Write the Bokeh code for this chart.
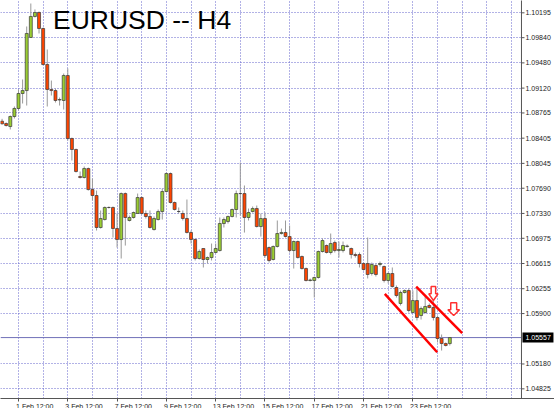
import numpy as np
from bokeh.plotting import figure
from bokeh.models import FixedTicker, Label, ColumnDataSource
from bokeh.embed import file_html
from bokeh.resources import INLINE
from bokeh.core.properties import value

# ---------------- data (EURUSD, H4 bars, first visible bar = index 0) ----------------
opens = [1.08647, 1.08614, 1.08571, 1.08714, 1.08829, 1.09043, 1.09085, 1.09843, 1.10143, 1.10200,
         1.09971, 1.09457, 1.09100, 1.09085, 1.08950, 1.08943, 1.09300, 1.08400, 1.08243, 1.07857,
         1.07843, 1.07971, 1.07671, 1.07586, 1.07129, 1.07243, 1.07415, 1.07415, 1.07115, 1.06957,
         1.07614, 1.07229, 1.07272, 1.07329, 1.07557, 1.07329, 1.07286, 1.07100, 1.07243, 1.07357,
         1.07643, 1.07900, 1.07486, 1.07358, 1.07329, 1.07258, 1.07058, 1.06958, 1.06686, 1.06829,
         1.06672, 1.06700, 1.06772, 1.06800, 1.07186, 1.07215, 1.07286, 1.07386, 1.07614, 1.07614,
         1.07272, 1.07357, 1.07400, 1.07143, 1.07257, 1.06843, 1.06672, 1.06858, 1.07043, 1.07058,
         1.07000, 1.06800, 1.06929, 1.06715, 1.06543, 1.06372, 1.06372, 1.06415, 1.06786, 1.06872,
         1.06772, 1.06915, 1.06800, 1.06800, 1.06858, 1.06829, 1.06743, 1.06743, 1.06615, 1.06615,
         1.06472, 1.06586, 1.06601, 1.06572, 1.06372, 1.06472, 1.06272, 1.06044, 1.06201, 1.06229,
         1.05915, 1.06086, 1.05872, 1.05915, 1.06015, 1.05986, 1.05844, 1.05544, 1.05472, 1.05472]
highs = [1.08681, 1.08629, 1.08729, 1.08857, 1.09100, 1.09243, 1.10000, 1.10328, 1.10243, 1.10214,
         1.09985, 1.09671, 1.09228, 1.09114, 1.08985, 1.09328, 1.09400, 1.08414, 1.08257, 1.07929,
         1.08000, 1.07985, 1.07829, 1.07657, 1.07372, 1.07429, 1.07429, 1.07429, 1.07329, 1.07629,
         1.07629, 1.07300, 1.07357, 1.07614, 1.07572, 1.07372, 1.07372, 1.07286, 1.07386, 1.07686,
         1.07914, 1.07914, 1.07500, 1.07415, 1.07372, 1.07529, 1.07086, 1.06972, 1.06815, 1.06829,
         1.06715, 1.06900, 1.06900, 1.07272, 1.07272, 1.07300, 1.07400, 1.07657, 1.08057, 1.07729,
         1.07400, 1.07429, 1.07443, 1.07329, 1.07343, 1.06858, 1.06872, 1.07229, 1.07114, 1.07229,
         1.07157, 1.06943, 1.06943, 1.06729, 1.06558, 1.06400, 1.06429, 1.06800, 1.06972, 1.06886,
         1.07043, 1.06943, 1.06929, 1.06929, 1.06886, 1.06843, 1.06772, 1.06772, 1.06629, 1.06986,
         1.06629, 1.06615, 1.06643, 1.06586, 1.06486, 1.06558, 1.06301, 1.06229, 1.06244, 1.06258,
         1.06229, 1.06258, 1.06001, 1.06144, 1.06044, 1.06115, 1.05872, 1.05601, 1.05487, 1.05562]
lows = [1.08600, 1.08571, 1.08529, 1.08686, 1.08800, 1.08900, 1.08871, 1.09843, 1.10128, 1.09900,
        1.09443, 1.08857, 1.09014, 1.08914, 1.08871, 1.08814, 1.08371, 1.08086, 1.07914, 1.07829,
        1.07829, 1.07657, 1.07515, 1.07086, 1.07114, 1.07229, 1.07400, 1.06986, 1.06843, 1.06686,
        1.06871, 1.07215, 1.07257, 1.07329, 1.07315, 1.07257, 1.07114, 1.07086, 1.07229, 1.07243,
        1.07629, 1.07472, 1.07372, 1.07329, 1.07229, 1.07043, 1.06900, 1.06658, 1.06672, 1.06558,
        1.06615, 1.06658, 1.06758, 1.06786, 1.07129, 1.07186, 1.07272, 1.07272, 1.07300, 1.07057,
        1.07229, 1.07343, 1.07129, 1.07000, 1.06700, 1.06629, 1.06658, 1.06843, 1.07029, 1.06986,
        1.06772, 1.06543, 1.06686, 1.06529, 1.06358, 1.06358, 1.06129, 1.06400, 1.06772, 1.06758,
        1.06743, 1.06772, 1.06700, 1.06772, 1.06843, 1.06686, 1.06700, 1.06558, 1.06515, 1.06401,
        1.06443, 1.06429, 1.06572, 1.06344, 1.06329, 1.06272, 1.06129, 1.06015, 1.06186, 1.05915,
        1.05901, 1.05801, 1.05815, 1.05901, 1.05972, 1.05801, 1.05487, 1.05372, 1.05430, 1.05444]
closes = [1.08610, 1.08586, 1.08714, 1.08829, 1.09043, 1.09085, 1.09900, 1.10143, 1.10200, 1.09971,
          1.09457, 1.09100, 1.09085, 1.08943, 1.08957, 1.09300, 1.08400, 1.08243, 1.07929, 1.07843,
          1.07971, 1.07671, 1.07586, 1.07129, 1.07257, 1.07415, 1.07415, 1.07115, 1.06957, 1.07614,
          1.07272, 1.07272, 1.07343, 1.07557, 1.07329, 1.07286, 1.07129, 1.07257, 1.07357, 1.07643,
          1.07900, 1.07486, 1.07386, 1.07358, 1.07258, 1.07058, 1.06958, 1.06686, 1.06786, 1.06672,
          1.06700, 1.06772, 1.06829, 1.07186, 1.07243, 1.07286, 1.07386, 1.07614, 1.07614, 1.07272,
          1.07343, 1.07400, 1.07143, 1.07257, 1.06729, 1.06658, 1.06858, 1.07043, 1.07058, 1.07000,
          1.06800, 1.06929, 1.06700, 1.06543, 1.06372, 1.06380, 1.06415, 1.06786, 1.06943, 1.06772,
          1.06900, 1.06800, 1.06815, 1.06872, 1.06865, 1.06743, 1.06729, 1.06615, 1.06529, 1.06458,
          1.06601, 1.06458, 1.06615, 1.06372, 1.06472, 1.06286, 1.06158, 1.06201, 1.06229, 1.05944,
          1.06086, 1.05844, 1.05972, 1.06001, 1.05986, 1.05844, 1.05544, 1.05472, 1.05444, 1.05557]

time_label_bars = [4, 16, 28, 40, 52, 64, 76, 88, 100]
time_labels = ["1 Feb 12:00", "3 Feb 12:00", "7 Feb 12:00", "9 Feb 12:00", "13 Feb 12:00",
               "15 Feb 12:00", "17 Feb 12:00", "21 Feb 12:00", "23 Feb 12:00"]
day_grid_bars = list(range(4, 125, 6))
price_ticks = [1.10195, 1.09840, 1.09480, 1.09120, 1.08765, 1.08405, 1.08045, 1.07690,
               1.07330, 1.06975, 1.06615, 1.06255, 1.05900, 1.05180, 1.04825]
last_price = 1.05557

# drawn channel + arrows (chart annotations, in bar / price units)
channel_lower_x = [93.17, 105.92]
channel_lower_y = [1.06182, 1.05348]
channel_upper_x = [100.81, 112.01]
channel_upper_y = [1.06286, 1.05619]
arrow_x = [105.0, 109.94]
arrow_top = [1.06286, 1.06054]
arrow_neck = [1.06182, 1.05954]
arrow_tip = [1.06086, 1.05872]
arrow_shaft_half = [0.55, 0.72]
arrow_head_half = [1.12, 1.42]

# ---------------- layout constants (bar units) ----------------
X0, X1 = -0.382, 134.48          # visible bar range of the whole canvas width
Y0, Y1 = 1.04687, 1.10371        # visible price range
PLOT_RIGHT = 126.44              # chart border, price scale lies to its right
BAR_PX = 554 / (X1 - X0)
PX_PRICE = (Y1 - Y0) / 398

n = len(opens)
bar_index = list(range(n))
BULL, BEAR = "#9acd32", "#ff4500"
src = ColumnDataSource(dict(
    x=bar_index, high=highs, low=lows,
    top=[max(o, c) for o, c in zip(opens, closes)],
    bottom=[min(o, c) for o, c in zip(opens, closes)],
    color=[BULL if c >= o else BEAR for o, c in zip(opens, closes)],
))

p = figure(frame_width=554, frame_height=398, x_range=(X0, X1), y_range=(Y0, Y1),
           y_axis_location=None, output_backend="svg", toolbar_location=None,
           min_border=0, min_border_left=0, min_border_top=0, min_border_right=0, min_border_bottom=0,
           background_fill_color="white", border_fill_color="white", outline_line_color=None)

GRID = "#6464cc"
p.xgrid.ticker = FixedTicker(ticks=day_grid_bars)
p.ygrid.ticker = FixedTicker(ticks=price_ticks)
for g in (p.xgrid, p.ygrid):
    g.grid_line_color = GRID
    g.grid_line_dash = "1 2"
    g.grid_line_width = 1

# time axis (labels start at their bar, as in MT4)
char_half = 3.1 / BAR_PX / 2
centers = [b + len(t) * char_half - 0.2 for b, t in zip(time_label_bars, time_labels)]
p.xaxis.ticker = FixedTicker(ticks=centers, minor_ticks=time_label_bars)
p.xaxis.major_label_overrides = {c: t for c, t in zip(centers, time_labels)}
p.xaxis.major_tick_out = 0
p.xaxis.major_tick_in = 0
p.xaxis.minor_tick_out = 3
p.xaxis.minor_tick_in = 0
p.xaxis.minor_tick_line_color = "#555555"
p.xaxis.major_label_standoff = 1
p.xaxis.axis_line_color = "#555555"
p.xaxis.major_label_text_font = "Liberation Sans"
p.xaxis.major_label_text_font_size = "7px"
p.xaxis.major_label_text_color = "#222222"

# bid line
p.segment(x0=[X0], y0=[last_price], x1=[PLOT_RIGHT], y1=[last_price], line_color="#7070b8", line_width=1)

# candles
p.segment(x0="x", y0="low", x1="x", y1="high", source=src, line_color="#999999", line_width=1)
p.vbar(x="x", width=0.72, top="top", bottom="bottom", source=src,
       fill_color="color", line_color="#3a3a3a", line_width=0.7)

# channel + arrows
p.line(channel_lower_x, channel_lower_y, line_color="#ff0000", line_width=2.5)
p.line(channel_upper_x, channel_upper_y, line_color="#ff0000", line_width=2.5)
axs, ays = [], []
for cx, t, nk, tp, sw, hw in zip(arrow_x, arrow_top, arrow_neck, arrow_tip, arrow_shaft_half, arrow_head_half):
    axs.append([cx - sw, cx + sw, cx + sw, cx + hw, cx, cx - hw, cx - sw])
    ays.append([t, t, nk, nk, tp, nk, nk])
p.patches(axs, ays, fill_color="white", line_color="#ff3030", line_width=1.5)

# price scale on the right
p.quad(left=[PLOT_RIGHT], right=[X1 + 1], bottom=[Y0 - 0.01], top=[Y1 + 0.01],
       fill_color="white", line_color=None)
p.segment(x0=[PLOT_RIGHT], y0=[Y0 - 0.01], x1=[PLOT_RIGHT], y1=[Y1 + 0.01], line_color="#555555", line_width=1)
tick_len = 3 / BAR_PX
p.segment(x0=[PLOT_RIGHT] * len(price_ticks), y0=price_ticks,
          x1=[PLOT_RIGHT + tick_len] * len(price_ticks), y1=price_ticks, line_color="#555555", line_width=1)
lab_x = PLOT_RIGHT + 4 / BAR_PX
p.text(x=[lab_x] * len(price_ticks), y=price_ticks, text=[f"{v:.5f}" for v in price_ticks],
       text_font=value("Liberation Sans"), text_font_size="7px", text_color="#222222",
       text_baseline="middle", text_align="left")
box_half = 5 * PX_PRICE
p.quad(left=[PLOT_RIGHT + 1 / BAR_PX], right=[PLOT_RIGHT + 32 / BAR_PX],
       bottom=[last_price - box_half], top=[last_price + box_half], fill_color="black", line_color=None)
p.text(x=[lab_x], y=[last_price], text=[f"{last_price:.5f}"],
       text_font=value("Liberation Sans"), text_font_size="7px", text_color="white",
       text_baseline="middle", text_align="left")

# title
p.add_layout(Label(x=12.4, y=Y1 - 19 * PX_PRICE, text="EURUSD -- H4", text_font="Liberation Sans",
                   text_font_size="26.5px", text_color="black", text_baseline="alphabetic"))

open("out.html", "w").write(file_html(p, INLINE))
